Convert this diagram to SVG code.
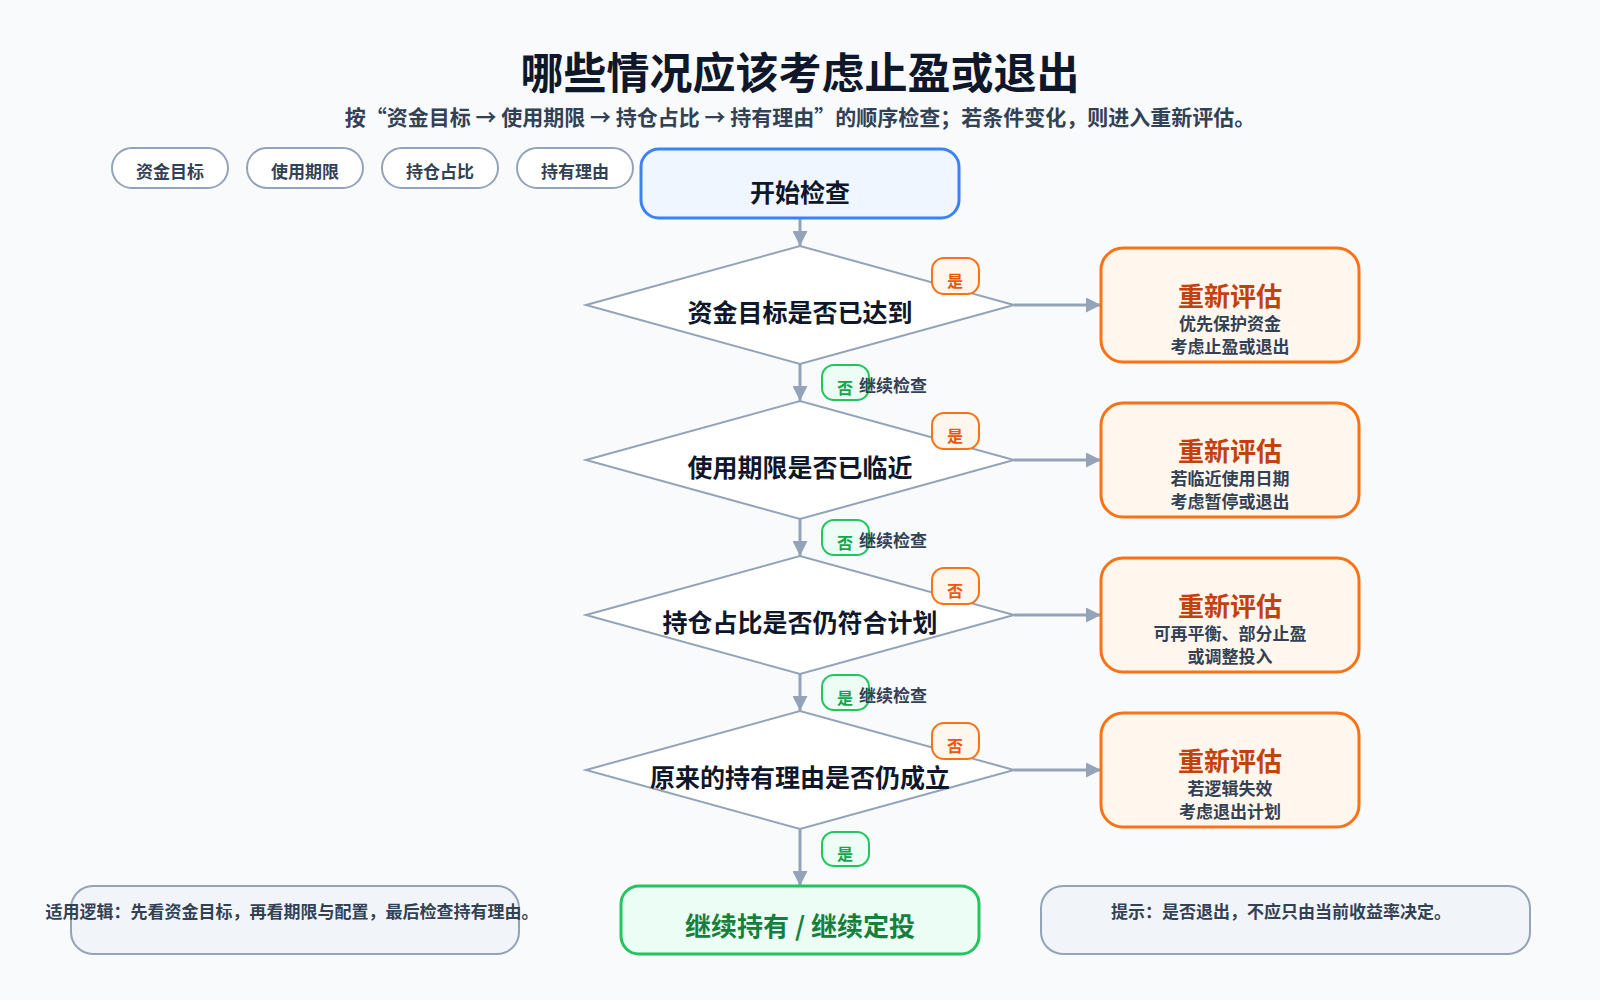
<svg xmlns="http://www.w3.org/2000/svg" width="1600" height="1000" viewBox="0 0 1600 1000">
<defs>
<marker id="ar" viewBox="0 0 10 10" refX="10" refY="5" markerWidth="5" markerHeight="5" orient="auto"><path d="M0,0 L10,5 L0,10 z" fill="#94a3b8"/></marker>
<style>
text{font-family:"Noto Sans CJK SC","Noto Sans",sans-serif;text-anchor:middle}
.chip rect{fill:#fff;stroke:#94a3b8;stroke-width:2}
.chip text{font-size:17px;font-weight:bold;fill:#334155}
.dia polygon{fill:#fff;stroke:#94a3b8;stroke-width:2}
.dia text{font-size:25px;font-weight:bold;fill:#0f172a}
.re rect{fill:#fff7ed;stroke:#f97316;stroke-width:3}
.re .t{font-size:26px;font-weight:bold;fill:#c2410c}
.re .s{font-size:17px;font-weight:bold;fill:#334155}
.by rect{fill:#fff7ed;stroke:#f97316;stroke-width:2}
.by text{font-size:16px;font-weight:bold;fill:#ea580c}
.bn rect{fill:#ecfdf5;stroke:#22c55e;stroke-width:2}
.bn text{font-size:16px;font-weight:bold;fill:#16a34a}
.ct{font-size:17px;font-weight:bold;fill:#334155;text-anchor:start}
.con line{stroke:#94a3b8;stroke-width:3;marker-end:url(#ar)}
.note rect{fill:#f1f5f9;stroke:#94a3b8;stroke-width:2}
.note text{font-size:17px;font-weight:bold;fill:#334155}
</style>
</defs>
<rect width="1600" height="1000" fill="#f8fafc"/>
<text x="800" y="89" font-size="43" font-weight="bold" fill="#0f172a">哪些情况应该考虑止盈或退出</text>
<text x="800" y="125" font-size="21" font-weight="bold" fill="#334155">按“资金目标 → 使用期限 → 持仓占比 → 持有理由”的顺序检查；若条件变化，则进入重新评估。</text>
<g id="chips" class="chip">
<g id="chip1"><rect x="112" y="148" width="116" height="40" rx="20"/><text x="170" y="178">资金目标</text></g>
<g id="chip2"><rect x="247" y="148" width="116" height="40" rx="20"/><text x="305" y="178">使用期限</text></g>
<g id="chip3"><rect x="382" y="148" width="116" height="40" rx="20"/><text x="440" y="178">持仓占比</text></g>
<g id="chip4"><rect x="517" y="148" width="116" height="40" rx="20"/><text x="575" y="178">持有理由</text></g>
</g>
<g id="connectors" class="con">
<line x1="800" y1="218" x2="800" y2="246"/>
<line x1="800" y1="364" x2="800" y2="401"/>
<line x1="800" y1="519" x2="800" y2="556"/>
<line x1="800" y1="674" x2="800" y2="711"/>
<line x1="800" y1="829" x2="800" y2="886"/>
<line x1="1014" y1="305" x2="1101" y2="305"/>
<line x1="1014" y1="460" x2="1101" y2="460"/>
<line x1="1014" y1="615" x2="1101" y2="615"/>
<line x1="1014" y1="770" x2="1101" y2="770"/>
</g>
<g id="start"><rect x="641" y="149" width="318" height="69" rx="18" fill="#eff6ff" stroke="#3b82f6" stroke-width="3"/><text x="800" y="202" font-size="25" font-weight="bold" fill="#0f172a">开始检查</text></g>
<g id="d1" class="dia"><polygon points="586,305 800,246 1014,305 800,364"/><text x="800" y="322">资金目标是否已达到</text></g>
<g id="d2" class="dia"><polygon points="586,460 800,401 1014,460 800,519"/><text x="800" y="477">使用期限是否已临近</text></g>
<g id="d3" class="dia"><polygon points="586,615 800,556 1014,615 800,674"/><text x="800" y="632">持仓占比是否仍符合计划</text></g>
<g id="d4" class="dia"><polygon points="586,770 800,711 1014,770 800,829"/><text x="800" y="787">原来的持有理由是否仍成立</text></g>
<g id="r1" class="re"><rect x="1101" y="248" width="258" height="114" rx="22"/><text class="t" x="1230" y="306">重新评估</text><text class="s" x="1230" y="330">优先保护资金</text><text class="s" x="1230" y="353">考虑止盈或退出</text></g>
<g id="r2" class="re"><rect x="1101" y="403" width="258" height="114" rx="22"/><text class="t" x="1230" y="461">重新评估</text><text class="s" x="1230" y="485">若临近使用日期</text><text class="s" x="1230" y="508">考虑暂停或退出</text></g>
<g id="r3" class="re"><rect x="1101" y="558" width="258" height="114" rx="22"/><text class="t" x="1230" y="616">重新评估</text><text class="s" x="1230" y="640">可再平衡、部分止盈</text><text class="s" x="1230" y="663">或调整投入</text></g>
<g id="r4" class="re"><rect x="1101" y="713" width="258" height="114" rx="22"/><text class="t" x="1230" y="771">重新评估</text><text class="s" x="1230" y="795">若逻辑失效</text><text class="s" x="1230" y="818">考虑退出计划</text></g>
<g id="badges">
<g class="by"><rect x="932" y="258" width="47" height="36" rx="12"/><text x="955" y="287">是</text></g>
<g class="by"><rect x="932" y="413" width="47" height="36" rx="12"/><text x="955" y="442">是</text></g>
<g class="by"><rect x="932" y="568" width="47" height="36" rx="12"/><text x="955" y="597">否</text></g>
<g class="by"><rect x="932" y="723" width="47" height="36" rx="12"/><text x="955" y="752">否</text></g>
<g class="bn"><rect x="822" y="365" width="47" height="35" rx="12"/><text x="845" y="394">否</text></g>
<g class="bn"><rect x="822" y="520" width="47" height="35" rx="12"/><text x="845" y="549">否</text></g>
<g class="bn"><rect x="822" y="675" width="47" height="35" rx="12"/><text x="845" y="704">是</text></g>
<g class="bn"><rect x="822" y="832" width="47" height="34" rx="12"/><text x="845" y="860">是</text></g>
<text class="ct" x="859" y="392">继续检查</text>
<text class="ct" x="859" y="547">继续检查</text>
<text class="ct" x="859" y="702">继续检查</text>
</g>
<g id="end"><rect x="621" y="886" width="358" height="68" rx="18" fill="#ecfdf5" stroke="#22c55e" stroke-width="3"/><text x="800" y="936" font-size="26" font-weight="bold" fill="#15803d">继续持有 / 继续定投</text></g>
<g id="note1" class="note"><rect x="71" y="886" width="448" height="68" rx="22"/><text x="292" y="918" font-size="18">适用逻辑：先看资金目标，再看期限与配置，最后检查持有理由。</text></g>
<g id="note2" class="note"><rect x="1041" y="886" width="489" height="68" rx="22"/><text x="1281" y="918" font-size="18">提示：是否退出，不应只由当前收益率决定。</text></g>
</svg>
